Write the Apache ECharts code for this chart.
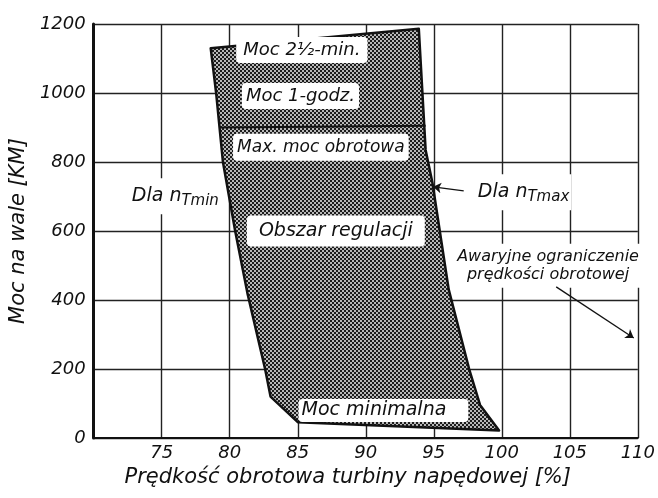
<!DOCTYPE html>
<html>
<head>
<meta charset="utf-8">
<script src="https://cdn.jsdelivr.net/npm/echarts@6/dist/echarts.min.js"></script>
<style>
html,body{margin:0;padding:0;background:#fff;}
#chart{width:658px;height:498px;}
</style>
</head>
<body>
<div id="chart"></div>
<script>
// ---- data ----
const speedTicks = [75, 80, 85, 90, 95, 100, 105, 110];
const powerTicks = [0, 200, 400, 600, 800, 1000, 1200];

// outline of the operating region (speed %, power KM), clockwise from top-left
const regionSpeed = [78.6, 93.9, 94.4, 94.9, 96.1, 97.6, 98.4, 99.8, 85.0, 83.0, 82.6, 81.3, 80.4, 79.5, 79.0];
const regionPower = [1130, 1186, 835, 740, 430, 200, 96, 22, 46, 120, 200, 420, 600, 800, 1000];

// internal limit line (max. moc obrotowa)
const maxLineSpeed = [79.3, 94.4];
const maxLinePower = [900, 905];

// labels inside the region
const zoneLabels = ['Moc 2½-min.', 'Moc 1-godz.', 'Max. moc obrotowa', 'Obszar regulacji', 'Moc minimalna'];
const zoneLabelSpeed = [85.3, 85.2, 86.7, 87.8, 91.3];
const zoneLabelPower = [1125, 991, 843, 600, 80];

// annotation texts
const noteTexts = ['Dla n', 'Dla n', 'Awaryjne ograniczenie\nprędkości obrotowej'];
const noteSubs = ['Tmin', 'Tmax', ''];
const noteSpeed = [76.0, 101.6, 103.4];
const notePower = [701, 712, 499];

// arrows [from, to]
const arrowFromSpeed = [97.2, 104.0];
const arrowFromPower = [716, 438];
const arrowToSpeed = [94.95, 109.7];
const arrowToPower = [728, 290];

// ---- chart ----
const FONT = 'DejaVu Sans';
const chart = echarts.init(document.getElementById('chart'), null, {renderer: 'canvas'});

function makePattern() {
  const c = document.createElement('canvas');
  c.width = 4; c.height = 4;
  const g = c.getContext('2d');
  g.fillStyle = '#1c1c1c'; g.fillRect(0, 0, 4, 4);
  g.fillStyle = '#b8b8b8';
  g.fillRect(0, 0, 2, 2); g.fillRect(2, 2, 2, 2);
  return c;
}
const pattern = makePattern();

const labelPads = [[4, 7], [4, 4], [5, 4], [6, 12], [2, 22, 2, 3]];
const labelSizes = [18, 18, 17, 19, 19];

const zoneData = zoneLabels.map((t, i) => ({
  value: [zoneLabelSpeed[i], zoneLabelPower[i]],
  label: {
    show: true, position: 'inside', formatter: t, opacity: 1,
    fontFamily: FONT, fontStyle: 'italic', fontSize: labelSizes[i], color: '#111',
    backgroundColor: '#fff', borderRadius: 4, padding: labelPads[i]
  }
}));

const noteData = noteTexts.map((t, i) => ({
  value: [noteSpeed[i], notePower[i]],
  label: {
    show: true, position: 'inside', opacity: 1,
    formatter: noteSubs[i] ? '{a|' + t + '}{s|' + noteSubs[i] + '}' : t,
    fontFamily: FONT, fontStyle: 'italic', fontSize: i === 2 ? 16 : 19, color: '#111',
    lineHeight: i === 2 ? 18 : 22,
    backgroundColor: '#fff', padding: i === 2 ? [4, 2] : [6, 2],
    rich: {
      a: {fontFamily: FONT, fontStyle: 'italic', fontSize: 19, color: '#111', lineHeight: 24},
      s: {fontFamily: FONT, fontStyle: 'italic', fontSize: 15, color: '#111', lineHeight: 24, verticalAlign: 'bottom', padding: [8, 0, 0, 0]}
    }
  }
}));

const arrowData = arrowFromSpeed.map((s, i) => ({
  coords: [[s, arrowFromPower[i]], [arrowToSpeed[i], arrowToPower[i]]]
}));

const option = {
  backgroundColor: '#fff',
  animation: false,
  grid: {left: 91, right: 7, top: 24, bottom: 60, containLabel: false},
  xAxis: {
    type: 'value', min: 70, max: 110, interval: 5,
    name: 'Prędkość obrotowa turbiny napędowej [%]',
    nameLocation: 'middle', nameGap: 29,
    nameTextStyle: {fontFamily: FONT, fontStyle: 'italic', fontSize: 21, color: '#111', padding: [0, 0, 0, -36]},
    axisLine: {show: true, lineStyle: {color: '#111', width: 2}},
    axisTick: {show: false},
    axisLabel: {
      margin: 6, fontFamily: FONT, fontStyle: 'italic', fontSize: 18, color: '#111',
      formatter: v => speedTicks.includes(v) ? String(v) : ''
    },
    splitLine: {show: true, lineStyle: {color: '#222', width: 1.4}}
  },
  yAxis: {
    type: 'value', min: 0, max: 1200, interval: 200,
    name: 'Moc na wale [KM]',
    nameLocation: 'middle', nameGap: 60, nameRotate: 90,
    nameTextStyle: {fontFamily: FONT, fontStyle: 'italic', fontSize: 21, color: '#111'},
    axisLine: {show: true, lineStyle: {color: '#111', width: 3}},
    axisTick: {show: false},
    axisLabel: {
      margin: 8, fontFamily: FONT, fontStyle: 'italic', fontSize: 18, color: '#111',
      formatter: v => powerTicks.includes(v) ? String(v) : ''
    },
    splitLine: {show: true, lineStyle: {color: '#222', width: 1.4}}
  },
  series: [
    {
      type: 'custom', silent: true, clip: false, z: 3,
      data: [[regionSpeed[0], regionPower[0]]],
      renderItem: function (params, api) {
        const pts = regionSpeed.map((s, i) => api.coord([s, regionPower[i]]));
        return {
          type: 'polygon',
          shape: {points: pts},
          style: {fill: {image: pattern, repeat: 'repeat'}, stroke: '#111', lineWidth: 2.5, lineJoin: 'round'}
        };
      }
    },
    {
      type: 'line', silent: true, z: 4, symbol: 'none',
      data: maxLineSpeed.map((s, i) => [s, maxLinePower[i]]),
      lineStyle: {color: '#111', width: 2}
    },
    {
      type: 'scatter', silent: true, z: 6, symbolSize: 0,
      itemStyle: {opacity: 1},
      emphasis: {disabled: true},
      data: zoneData
    },
    {
      type: 'scatter', silent: true, z: 6, symbolSize: 0,
      itemStyle: {opacity: 1},
      emphasis: {disabled: true},
      data: noteData
    },
    {
      type: 'lines', coordinateSystem: 'cartesian2d', silent: true, z: 7,
      symbol: ['none', 'arrow'], symbolSize: 8,
      lineStyle: {color: '#111', width: 1.3, opacity: 1},
      data: arrowData
    }
  ]
};
chart.setOption(option);
</script>
</body>
</html>
